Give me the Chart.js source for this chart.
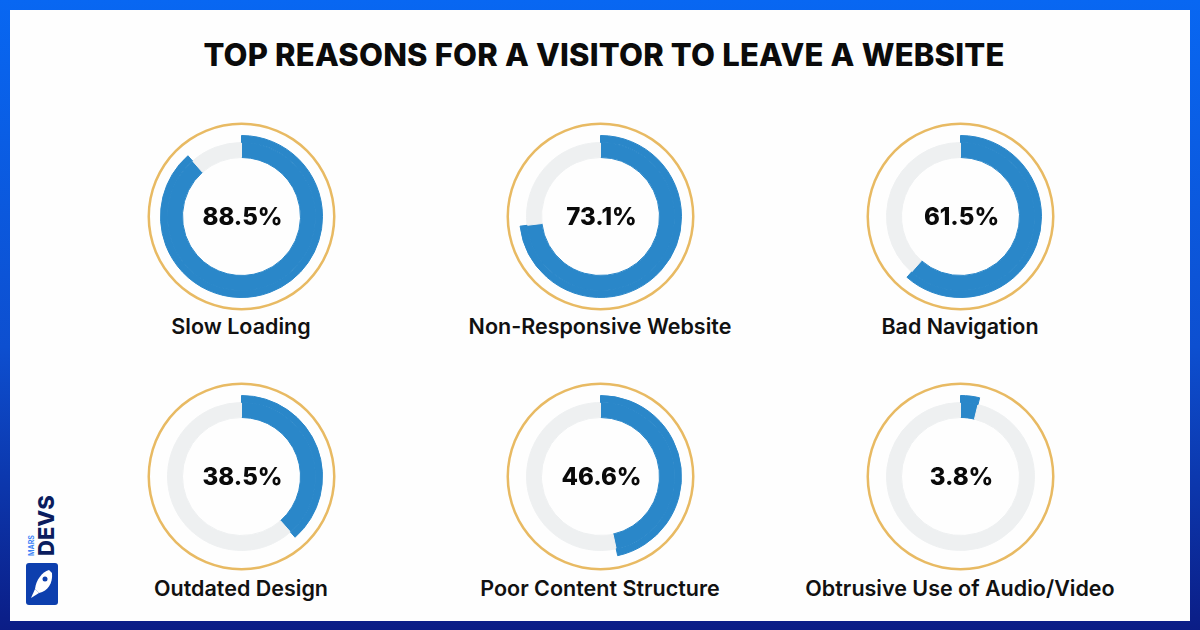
<!DOCTYPE html>
<html>
<head>
<meta charset="utf-8">
<script src="https://cdn.jsdelivr.net/npm/chart.js@4"></script>
<style>
  html, body { margin: 0; padding: 0; }
  body {
    width: 1200px; height: 630px; position: relative; overflow: hidden;
    background: linear-gradient(180deg, #0867f2 0%, #0d4fd0 55%, #0b1d86 100%);
    font-family: "Inter", "Noto Sans", sans-serif;
  }
  .card {
    position: absolute; left: 10px; top: 10px; width: 1180px; height: 611px;
    background: #fefefe;
  }
  h1 {
    position: absolute; left: 4px; top: 36px; width: 1200px; margin: 0;
    text-align: center; font-size: 31px; font-weight: 800; color: #0b0b0b;
    letter-spacing: 0.2px;
  }
  .gauge { position: absolute; width: 189px; height: 189px; }
  .label {
    position: absolute; width: 400px; text-align: center; line-height: 26px;
    font-size: 21.5px; font-weight: 600; color: #111;
  }
  .logo { position: absolute; left: 22px; top: 490px; width: 40px; height: 120px; }
</style>
</head>
<body>
<div class="card"></div>
<h1>TOP REASONS FOR A VISITOR TO LEAVE A WEBSITE</h1>
<div id="gauges"></div>

<div class="logo">
  <svg width="40" height="120" viewBox="0 0 40 120">
    <text transform="translate(32,66) rotate(-90)" font-family="Inter, sans-serif" font-weight="800" font-size="22" fill="#0b1d5e">DEVS</text>
    <text transform="translate(12,66) rotate(-90)" font-family="Inter, sans-serif" font-weight="700" font-size="7" fill="#3b82f6">MARS</text>
    <rect x="4" y="73" width="32" height="42" rx="3" fill="#0d3fae"/>
    <path d="M27 80 C20 82 14 90 13 99 L17 103 C26 101 31 93 30 83 Z" fill="#ffffff"/>
    <circle cx="23" cy="89" r="2.5" fill="#0d3fae"/>
    <path d="M13 99 L9 108 L17 103 Z" fill="#ffffff"/>
  </svg>
</div>

<script>
// chart data
const categories = [
  "Slow Loading",
  "Non-Responsive Website",
  "Bad Navigation",
  "Outdated Design",
  "Poor Content Structure",
  "Obtrusive Use of Audio/Video",
];
const percentages = [88.5, 73.1, 61.5, 38.5, 46.6, 3.8];

// layout
const colCenters = [241, 600, 960];
const rowCenters = [216, 476];
const labelRows = [326, 588];
const gaugeSize = 189;

const blue = "#2a87c9";
const track = "#eef0f1";
const gold = "#e8ba63";
const clear = "rgba(0,0,0,0)";

// draws the percentage in the middle of each gauge
const centerText = {
  id: "centerText",
  afterDraw(chart) {
    const arc = chart.getDatasetMeta(0).data[0];
    if (!arc) return;
    const ctx = chart.ctx;
    ctx.save();
    ctx.font = "800 24px Inter, 'Noto Sans', sans-serif";
    ctx.fillStyle = "#0a0a0a";
    ctx.textAlign = "center";
    ctx.textBaseline = "middle";
    ctx.fillText(chart.options.plugins.centerText.text, arc.x + 1, arc.y + 1);
    ctx.restore();
  },
};

const holder = document.getElementById("gauges");

categories.forEach((name, i) => {
  const row = Math.floor(i / 3);
  const cx = colCenters[i % 3];
  const cy = rowCenters[row];
  const value = percentages[i];

  const box = document.createElement("div");
  box.className = "gauge";
  box.style.left = cx - gaugeSize / 2 + "px";
  box.style.top = cy - gaugeSize / 2 + "px";
  const canvas = document.createElement("canvas");
  box.appendChild(canvas);
  holder.appendChild(box);

  const label = document.createElement("div");
  label.className = "label";
  label.textContent = name;
  label.style.left = cx - 200 + "px";
  label.style.top = labelRows[row] - 13 + "px";
  holder.appendChild(label);

  new Chart(canvas, {
    type: "doughnut",
    data: {
      labels: ["value", "rest"],
      datasets: [
        // thin gold outline
        { data: [100], backgroundColor: [gold], borderColor: [clear], weight: 2.5 },
        // gap
        { data: [100], backgroundColor: [clear], borderColor: [clear], weight: 10.5 },
        // outer part of the blue arc, sticks out past the track
        {
          data: [value, 100 - value],
          backgroundColor: [blue, clear],
          borderColor: [blue, clear],
          weight: 7,
        },
        // blue arc on grey track
        {
          data: [value, 100 - value],
          backgroundColor: [blue, track],
          borderColor: [blue, track],
          weight: 15,
        },
      ],
    },
    options: {
      responsive: true,
      maintainAspectRatio: false,
      animation: false,
      events: [],
      cutout: (59 / 94) * 100 + "%",
      hoverOffset: 0,
      layout: { padding: 0 },
      elements: { arc: { borderWidth: 1, borderAlign: "center" } },
      plugins: {
        legend: { display: false },
        tooltip: { enabled: false },
        centerText: { text: value + "%" },
      },
    },
    plugins: [centerText],
  });
});
</script>
</body>
</html>
